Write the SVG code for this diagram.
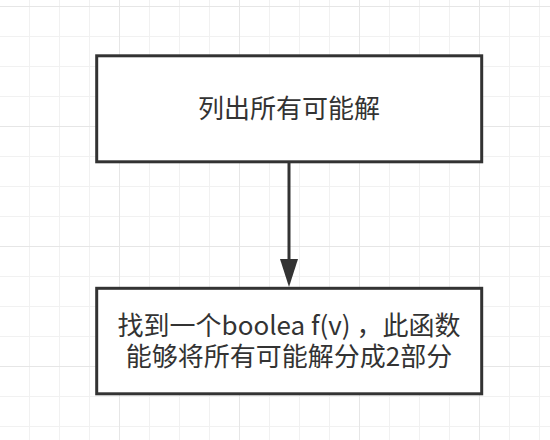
<svg xmlns="http://www.w3.org/2000/svg" width="550" height="440" viewBox="0 0 550 440">
<style>
.box{fill:#ffffff;stroke:#333333;stroke-width:3}
.lbl{font-family:"Noto Sans CJK SC","Liberation Sans",sans-serif;font-size:26px;fill:#333333;text-anchor:middle}
.edge{stroke:#333333;stroke-width:3;fill:none}
</style>
<defs>
<pattern id="minor" patternUnits="userSpaceOnUse" x="29" y="6" width="30" height="30">
<path d="M0.5 0V30M0 0.5H30" stroke="#f1f1f1" stroke-width="1" fill="none"/>
</pattern>
<pattern id="major" patternUnits="userSpaceOnUse" x="119" y="6" width="120" height="120">
<path d="M0.5 0V120M0 0.5H120" stroke="#e6e6e6" stroke-width="1" fill="none"/>
</pattern>
<marker id="arr" markerUnits="userSpaceOnUse" markerWidth="20" markerHeight="28" refX="9" refY="26" orient="auto-start-reverse" viewBox="0 0 18 27">
<path d="M0 0L18 0L9 26Z" fill="#333333"/>
</marker>
</defs>
<rect width="550" height="440" fill="#ffffff"/>
<rect width="550" height="440" fill="url(#minor)"/>
<rect width="550" height="440" fill="url(#major)"/>
<g id="connectors">
<path class="edge" d="M289 163V260"/>
<path d="M280 259L298 259L289 287Z" fill="#333333"/>
</g>
<g id="node1">
<rect class="box" x="96.7" y="55.8" width="385" height="106"/>
<text class="lbl" x="289" y="118">列出所有可能解</text>
</g>
<g id="node2">
<rect class="box" x="96.7" y="288.3" width="385" height="105.5"/>
<text class="lbl" x="289" y="335">找到一个boolea f(v) ，此函数</text>
<text class="lbl" x="289" y="366">能够将所有可能解分成2部分</text>
</g>
</svg>
